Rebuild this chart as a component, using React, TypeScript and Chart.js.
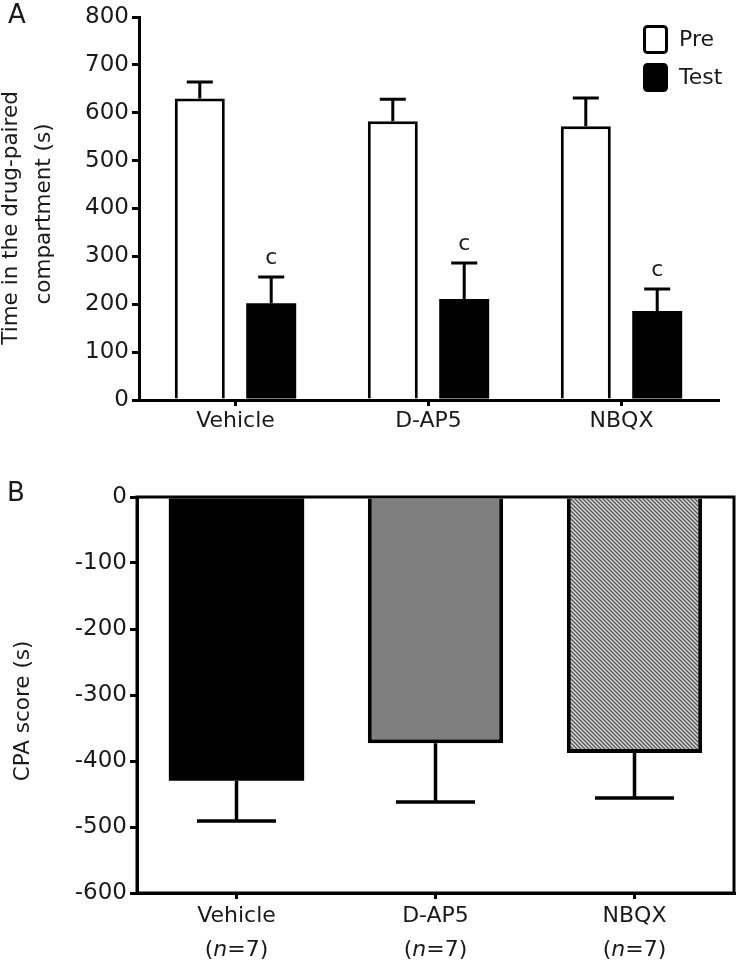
import React, { useEffect, useRef } from 'react';
import { Chart, registerables } from 'chart.js';

Chart.register(...registerables);

// ---------- data ----------
const groups = ['Vehicle', 'D-AP5', 'NBQX'];
const seriesNames = ['Pre', 'Test'];
const preMeans = [630, 582, 572];
const preErrors = [34, 46, 59];
const testMeans = [202, 211, 186];
const testErrors = [55, 75, 46];
const sigMarks = ['c', 'c', 'c'];
const groupSizes = [7, 7, 7];
const cpaScores = [-430, -373, -388];
const cpaErrors = [61, 89, 68];
const topTicks = [0, 100, 200, 300, 400, 500, 600, 700, 800];
const bottomTicks = [-600, -500, -400, -300, -200, -100, 0];
const topTitle = ['Time in the drug-paired', 'compartment (s)'];
const bottomTitle = 'CPA score (s)';

const FONT = 'DejaVu Sans';
const TEXT = '#1a1a1a';

const errorBarPlugin = {
  id: 'errorBars',
  afterDatasetsDraw(chart: any) {
    const ctx = chart.ctx;
    const y = chart.scales.y;
    chart.data.datasets.forEach((ds: any, di: number) => {
      const errs = ds.errors;
      if (!errs) return;
      const meta = chart.getDatasetMeta(di);
      meta.data.forEach((el: any, i: number) => {
        const v = ds.data[i];
        const dir = v >= 0 ? 1 : -1;
        const yEnd = y.getPixelForValue(v + dir * errs[i]);
        const cap = ds.capWidth || 26;
        ctx.save();
        ctx.strokeStyle = '#000';
        ctx.lineWidth = ds.errLineWidth || 3;
        ctx.beginPath();
        ctx.moveTo(el.x, el.y);
        ctx.lineTo(el.x, yEnd);
        ctx.moveTo(el.x - cap / 2, yEnd);
        ctx.lineTo(el.x + cap / 2, yEnd);
        ctx.stroke();
        if (ds.marks && ds.marks[i]) {
          ctx.fillStyle = TEXT;
          ctx.font = `22px "${FONT}"`;
          ctx.textAlign = 'center';
          ctx.textBaseline = 'middle';
          ctx.fillText(ds.marks[i], el.x, yEnd - 19);
        }
        ctx.restore();
      });
    });
  },
};

function drawRotated(ctx: CanvasRenderingContext2D, text: string, x: number, y: number, size: number) {
  ctx.save();
  ctx.translate(x, y);
  ctx.rotate(-Math.PI / 2);
  ctx.font = `${size}px "${FONT}"`;
  ctx.fillStyle = TEXT;
  ctx.textAlign = 'center';
  ctx.textBaseline = 'middle';
  ctx.fillText(text, 0, 0);
  ctx.restore();
}

const topDecor = {
  id: 'topDecor',
  afterDraw(chart: any) {
    const ctx = chart.ctx;
    ctx.save();
    ctx.fillStyle = TEXT;
    ctx.font = `26px "${FONT}"`;
    ctx.textAlign = 'left';
    ctx.textBaseline = 'middle';
    ctx.fillText('A', 8, 16);
    // y-axis title (two lines)
    drawRotated(ctx, topTitle[0], 11, 218, 21.5);
    drawRotated(ctx, topTitle[1], 44, 214, 21.5);
    // legend
    const ds = chart.data.datasets;
    const items = [
      { y: 25, fill: ds[0].backgroundColor, label: ds[0].label },
      { y: 63, fill: ds[1].backgroundColor, label: ds[1].label },
    ];
    items.forEach((it) => {
      ctx.beginPath();
      ctx.roundRect(644.5, it.y + 1.5, 22, 26, 3);
      ctx.fillStyle = it.fill;
      ctx.fill();
      ctx.lineWidth = 3;
      ctx.strokeStyle = '#000';
      ctx.stroke();
      ctx.fillStyle = TEXT;
      ctx.font = `22px "${FONT}"`;
      ctx.textAlign = 'left';
      ctx.textBaseline = 'middle';
      ctx.fillText(it.label, 679, it.y + 15);
    });
    ctx.restore();
  },
};

const bottomDecor = {
  id: 'bottomDecor',
  afterDraw(chart: any) {
    const ctx = chart.ctx;
    const { left, top, right, bottom } = chart.chartArea;
    ctx.save();
    ctx.strokeStyle = '#000';
    ctx.lineWidth = 3;
    ctx.strokeRect(left, top, right - left, bottom - top);
    ctx.fillStyle = TEXT;
    ctx.font = `26px "${FONT}"`;
    ctx.textAlign = 'left';
    ctx.textBaseline = 'middle';
    ctx.fillText('B', 7, 34);
    drawRotated(ctx, bottomTitle, 23, 251, 21.5);
    // category labels with italic n
    const xs = chart.scales.x;
    ctx.fillStyle = TEXT;
    ctx.textBaseline = 'middle';
    chart.data.labels.forEach((lab: string, i: number) => {
      const x = xs.getPixelForTick(i);
      ctx.font = `22px "${FONT}"`;
      ctx.textAlign = 'center';
      ctx.fillText(lab, x, bottom + 23);
      const p1 = '(';
      const p2 = 'n';
      const p3 = `=${groupSizes[i]})`;
      const fN = `22px "${FONT}"`;
      const fI = `italic 22px "${FONT}"`;
      ctx.font = fN;
      const w1 = ctx.measureText(p1).width;
      const w3 = ctx.measureText(p3).width;
      ctx.font = fI;
      const w2 = ctx.measureText(p2).width;
      let sx = x - (w1 + w2 + w3) / 2;
      ctx.textAlign = 'left';
      ctx.font = fN;
      ctx.fillText(p1, sx, bottom + 57);
      sx += w1;
      ctx.font = fI;
      ctx.fillText(p2, sx, bottom + 57);
      sx += w2;
      ctx.font = fN;
      ctx.fillText(p3, sx, bottom + 57);
    });
    ctx.restore();
  },
};

function makeHatch(): CanvasPattern | string {
  const c = document.createElement('canvas');
  c.width = 4;
  c.height = 4;
  const g = c.getContext('2d');
  if (!g) return '#999';
  g.fillStyle = '#e2e2e2';
  g.fillRect(0, 0, 4, 4);
  g.strokeStyle = '#585858';
  g.lineWidth = 1.5;
  g.beginPath();
  g.moveTo(-1, -1);
  g.lineTo(5, 5);
  g.moveTo(-1, 3);
  g.lineTo(1, 5);
  g.moveTo(3, -1);
  g.lineTo(5, 1);
  g.stroke();
  const p = g.createPattern(c, 'repeat');
  return p || '#999';
}

const axisCommon = {
  border: { display: true, color: '#000', width: 3 },
  grid: { display: true, drawOnChartArea: false, drawTicks: true, tickLength: 7, color: '#000', lineWidth: 3 },
};

export default function App() {
  const topRef = useRef<HTMLCanvasElement>(null);
  const botRef = useRef<HTMLCanvasElement>(null);

  useEffect(() => {
    Chart.defaults.font.family = FONT;
    const top = new Chart(topRef.current as HTMLCanvasElement, {
      type: 'bar',
      data: {
        labels: groups,
        datasets: [
          {
            label: seriesNames[0],
            data: preMeans,
            errors: preErrors,
            capWidth: 26,
            backgroundColor: '#ffffff',
            borderColor: '#000',
            borderWidth: 3,
            categoryPercentage: 0.74,
            barPercentage: 0.7,
          } as any,
          {
            label: seriesNames[1],
            data: testMeans,
            errors: testErrors,
            marks: sigMarks,
            capWidth: 26,
            backgroundColor: '#000000',
            borderColor: '#000',
            borderWidth: 0,
            categoryPercentage: 0.74,
            barPercentage: 0.7,
          } as any,
        ],
      },
      options: {
        responsive: false,
        animation: false,
        layout: { padding: { left: 0, top: 17, right: 22, bottom: 0 } },
        plugins: { legend: { display: false }, tooltip: { enabled: false } },
        scales: {
          x: {
            ...axisCommon,
            grid: { ...axisCommon.grid, offset: false, tickLength: 6 },
            ticks: { color: TEXT, font: { size: 22, family: FONT }, padding: 2 },
            afterFit: (s: any) => { s.height = 60; },
          },
          y: {
            ...axisCommon,
            min: 0,
            max: 800,
            afterBuildTicks: (s: any) => { s.ticks = topTicks.map((v) => ({ value: v })); },
            ticks: { color: TEXT, font: { size: 23, family: FONT }, padding: 3 },
            afterFit: (s: any) => { s.width = 139; },
          },
        },
      } as any,
      plugins: [errorBarPlugin, topDecor],
    });

    const bot = new Chart(botRef.current as HTMLCanvasElement, {
      type: 'bar',
      data: {
        labels: groups,
        datasets: [
          {
            label: bottomTitle,
            data: cpaScores,
            errors: cpaErrors,
            capWidth: 79,
            errLineWidth: 3.5,
            backgroundColor: ['#000000', '#7f7f7f', makeHatch()],
            borderColor: '#000',
            borderWidth: [0, 4, 4],
            categoryPercentage: 1,
            barPercentage: 0.68,
          } as any,
        ],
      },
      options: {
        responsive: false,
        animation: false,
        layout: { padding: { left: 0, top: 37, right: 6, bottom: 0 } },
        plugins: { legend: { display: false }, tooltip: { enabled: false } },
        scales: {
          x: {
            ...axisCommon,
            grid: { ...axisCommon.grid, offset: false, tickLength: 6 },
            ticks: { display: false },
            afterFit: (s: any) => { s.height = 67; },
          },
          y: {
            ...axisCommon,
            min: -600,
            max: 0,
            afterBuildTicks: (s: any) => { s.ticks = bottomTicks.map((v) => ({ value: v })); },
            ticks: { color: TEXT, font: { size: 23, family: FONT }, padding: 3 },
            afterFit: (s: any) => { s.width = 137; },
          },
        },
      } as any,
      plugins: [errorBarPlugin, bottomDecor],
    });

    return () => {
      top.destroy();
      bot.destroy();
    };
  }, []);

  return (
    <div style={{ position: 'fixed', left: 0, top: 0, width: 740, height: 960, background: '#fff' }}>
      <canvas ref={topRef} width={740} height={460} style={{ position: 'absolute', left: 0, top: 0 }} />
      <canvas ref={botRef} width={740} height={500} style={{ position: 'absolute', left: 0, top: 460 }} />
    </div>
  );
}
